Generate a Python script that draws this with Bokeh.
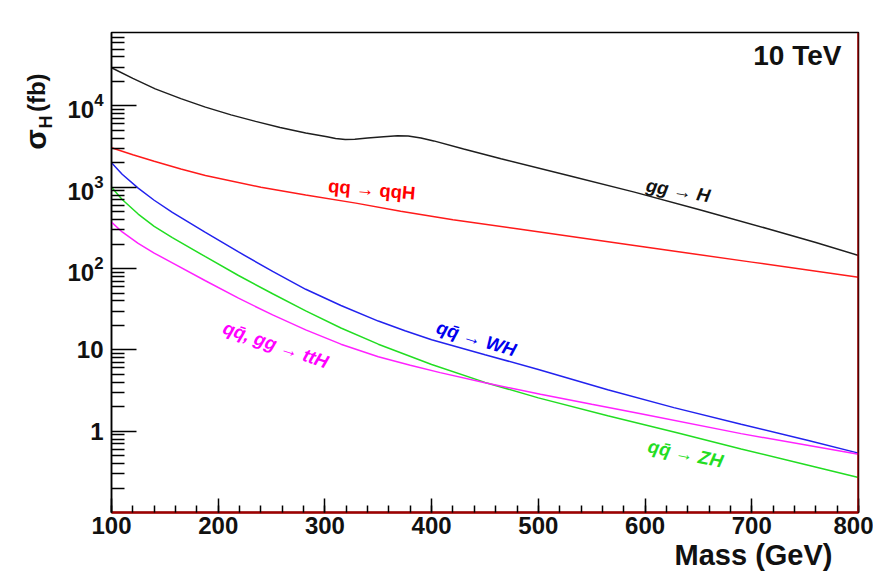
from bokeh.plotting import figure
from bokeh.layouts import row
from bokeh.models import Range1d, FixedTicker, SingleIntervalTicker, LogTickFormatter, Span, Title
from bokeh.core.properties import value
from bokeh.embed import file_html
from bokeh.resources import INLINE

# ---- data ----
mass_ggH = [100, 120, 141, 165, 188, 212, 235, 258, 282, 302, 310, 319, 328, 340, 355, 368, 378,
            390, 402, 430, 465, 528, 590, 652, 715, 760, 800]
xsec_ggH = [29500, 21800, 16200, 12300, 9660, 7760, 6460, 5430, 4660, 4190, 3980, 3860, 3890, 4030,
            4190, 4285, 4265, 4030, 3715, 2950, 2245, 1396, 871, 525, 309, 209, 145]

mass_qqH = [100, 120, 140, 165, 188, 240, 282, 329, 371, 420, 480, 590, 700, 800]
xsec_qqH = [3060, 2510, 2090, 1680, 1396, 1000, 803, 638, 507, 398, 309, 192, 120, 78]

mass_WH = [100, 110, 125, 140, 157, 188, 219, 251, 282, 315, 350, 375, 400, 450, 500, 565, 627, 690, 753, 800]
xsec_WH = [2000, 1445, 977, 692, 490, 279, 160, 92.3, 55.6, 35.1, 22.6, 17.2, 13.3, 8.71, 5.75, 3.24,
           1.95, 1.216, 0.767, 0.537]

mass_ZH = [100, 110, 125, 140, 157, 188, 219, 251, 282, 315, 350, 400, 450, 500, 565, 630, 690, 750, 800]
xsec_ZH = [1000, 708, 468, 331, 240, 140, 82.2, 49.0, 30.2, 18.6, 11.75, 6.61, 3.98, 2.57, 1.55,
           0.955, 0.603, 0.389, 0.270]

mass_ttH = [100, 110, 125, 140, 157, 188, 219, 251, 282, 315, 350, 380, 408, 450, 502, 550, 596, 690, 800]
xsec_ttH = [372, 282, 204, 155, 117.5, 70.8, 43.2, 26.9, 17.6, 11.75, 8.22, 6.46, 5.25, 3.94, 2.85,
            2.14, 1.64, 0.933, 0.52]

x_ticks_interval = 100
y_major_ticks = [1, 10, 100, 1000, 10000]
y_minor_ticks = [k * 10 ** e for e in range(-1, 5) for k in range(2, 10) if k * 10 ** e < 8e4]

series_labels = ["gg → H", "qq → qqH", "qq̄ → WH", "qq̄, gg → ttH", "qq̄ → ZH"]

FONT = value("Liberation Sans")
H = 585

# ---- main plot ----
p = figure(width=817, height=H, x_range=Range1d(100, 800), y_range=Range1d(0.1, 8e4),
           y_axis_type="log", output_backend="svg", toolbar_location=None,
           min_border_left=55, min_border_right=15, min_border_top=32, min_border_bottom=H - 512,
           background_fill_color="white", border_fill_color="white")
p.xgrid.visible = False
p.ygrid.visible = False
p.outline_line_color = "black"
p.outline_line_width = 1.5

xa = p.xaxis[0]
xa.ticker = SingleIntervalTicker(interval=x_ticks_interval, num_minor_ticks=5)
xa.axis_line_color = "#a00000"
xa.axis_line_width = 2.5
xa.major_tick_line_color = "black"
xa.major_tick_line_width = 1.5
xa.minor_tick_line_color = "black"
xa.minor_tick_line_width = 1.5
xa.major_tick_in = 14
xa.major_tick_out = 0
xa.minor_tick_in = 7
xa.minor_tick_out = 0
xa.major_label_text_font = "Liberation Sans"
xa.major_label_text_font_style = "bold"
xa.major_label_text_font_size = "24px"
xa.major_label_text_color = "#111111"
xa.major_label_standoff = 4

ya = p.yaxis[0]
ya.ticker = FixedTicker(ticks=y_major_ticks, minor_ticks=y_minor_ticks)
ya.formatter = LogTickFormatter(min_exponent=2)
ya.axis_line_color = "black"
ya.axis_line_width = 1.5
ya.major_tick_line_color = "black"
ya.major_tick_line_width = 1.5
ya.minor_tick_line_color = "black"
ya.minor_tick_line_width = 1.5
ya.major_tick_in = 25
ya.major_tick_out = 0
ya.minor_tick_in = 13
ya.minor_tick_out = 0
ya.major_label_text_font = "Liberation Sans"
ya.major_label_text_font_style = "bold"
ya.major_label_text_font_size = "24px"
ya.major_label_text_color = "#111111"
ya.major_label_standoff = 8

p.add_layout(Title(text="Mass (GeV)", align="right", offset=26, standoff=0,
                   text_font="Liberation Sans", text_font_style="bold", text_font_size="29px",
                   text_color="#111111"), "below")

p.add_layout(Span(location=800, dimension="height", line_color="#a00000", line_width=2.5))

p.line(mass_ggH, xsec_ggH, line_color="#1e1e1e", line_width=1.5)
p.line(mass_qqH, xsec_qqH, line_color="#ff1a1a", line_width=1.5)
p.line(mass_WH, xsec_WH, line_color="#2222ee", line_width=1.5)
p.line(mass_ZH, xsec_ZH, line_color="#22dd22", line_width=1.5)
p.line(mass_ttH, xsec_ttH, line_color="#ff22ff", line_width=1.5)

lab_x = [631, 344, 442, 254, 638]
lab_y = [914, 940, 13.8, 11.6, 0.53]
lab_angle = [-10, -5, -17, -19, -12]
lab_color = ["#111111", "#ff0000", "#0000ee", "#ff00ff", "#22dd22"]
lab_style = ["bold italic", "bold", "bold italic", "bold italic", "bold italic"]
for i in range(5):
    p.text(x=[lab_x[i]], y=[lab_y[i]], text=[series_labels[i]], angle=lab_angle[i], angle_units="deg",
           text_color=lab_color[i], text_font=FONT, text_font_style=lab_style[i],
           text_font_size="18.5px", text_align="center", text_baseline="middle")

p.text(x=[784], y=[41800], text=["10 TeV"], text_color="#111111", text_font=FONT,
       text_font_style="bold", text_font_size="28px", text_align="right", text_baseline="middle")

# ---- narrow panel carrying the y-axis title (pixel coordinates, y upwards) ----
LW = 56
lab = figure(width=LW, height=H, x_range=Range1d(0, LW), y_range=Range1d(0, H),
             output_backend="svg", toolbar_location=None, x_axis_location=None, y_axis_location=None,
             min_border_left=0, min_border_right=0, min_border_top=0, min_border_bottom=0,
             background_fill_color="white", border_fill_color="white")
lab.outline_line_color = None
lab.xgrid.visible = False
lab.ygrid.visible = False
ytitle_parts = ["σ", "H", "(fb)"]
ytitle_x = [35, 45, 36]
ytitle_y = [H - 143, H - 117, H - 97]
ytitle_size = ["30px", "18px", "24px"]
for i in range(3):
    lab.text(x=[ytitle_x[i]], y=[ytitle_y[i]], text=[ytitle_parts[i]], angle=90, angle_units="deg",
             text_color="#111111", text_font=FONT, text_font_style="bold",
             text_font_size=ytitle_size[i], text_align="left", text_baseline="middle")

layout = row(lab, p)
open("out.html", "w").write(file_html(layout, INLINE))
